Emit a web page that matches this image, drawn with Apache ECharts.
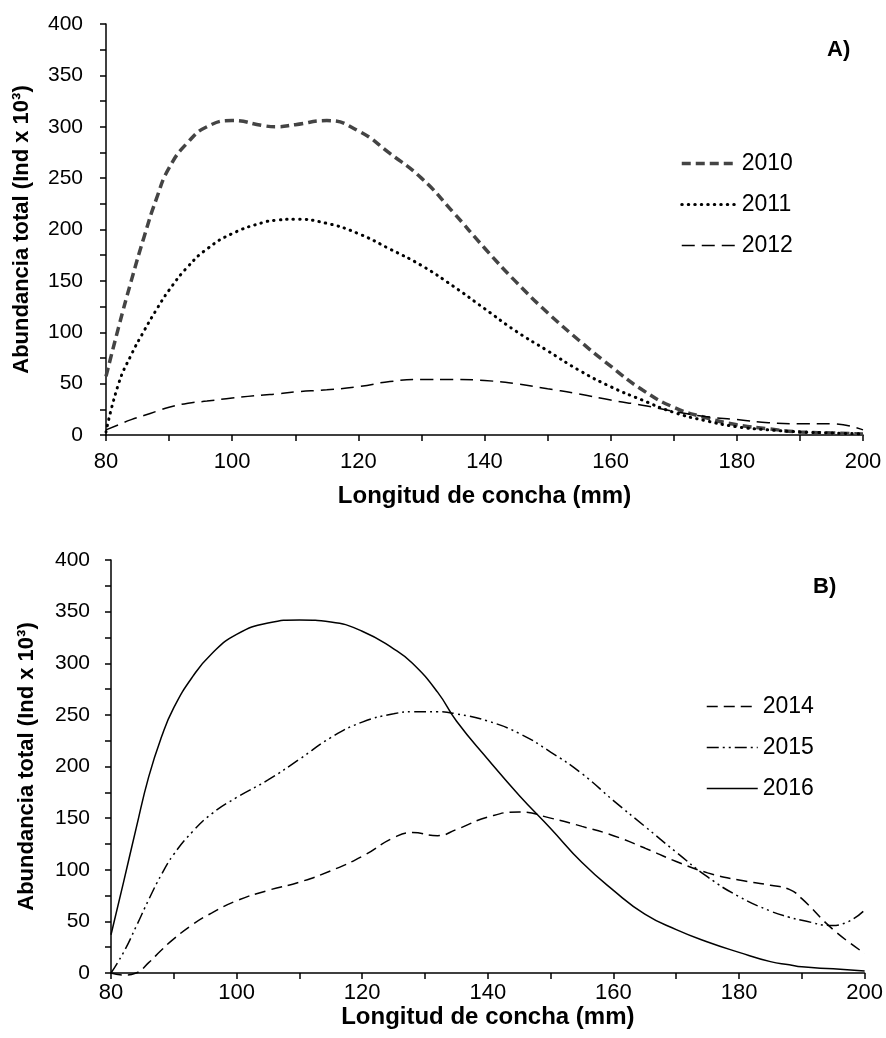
<!DOCTYPE html>
<html>
<head>
<meta charset="utf-8">
<script src="https://cdn.jsdelivr.net/npm/echarts@6/dist/echarts.min.js"></script>
<style>
  html, body { margin: 0; padding: 0; background: #fff; }
  #main { width: 886px; height: 1038px; }
</style>
</head>
<body>
<div id="main"></div>
<script>
// Longitud de concha (mm)
var lenA = [80, 82, 84, 86, 88, 90, 93, 96, 100, 105, 107, 110, 115, 120, 125, 130, 135, 140, 145, 150, 155, 160, 165, 170, 175, 180, 185, 190, 195, 200];
var a2010 = [57, 105, 150, 192, 230, 260, 285, 300, 306, 301, 300, 302, 306, 296, 274, 250, 217, 182, 149, 119, 92, 67, 44, 27, 17, 10, 6, 3, 2, 1];
var a2011 = [3, 50, 78, 101, 122, 141, 164, 181, 196, 207, 209, 210, 206, 196, 181, 165, 145, 123, 101, 82, 63, 47, 34, 22, 14, 8, 5, 3, 2, 1];
var a2012 = [5, 10, 15, 19, 23, 27, 31, 33, 36, 39, 40, 42, 44, 47, 52, 54, 54, 53, 50, 45, 40, 34, 29, 23, 18, 15, 12, 11, 11, 5];

var lenB = [80, 82, 84, 86, 88, 90, 93, 96, 100, 105, 110, 115, 120, 125, 128, 132, 135, 140, 145, 150, 155, 160, 165, 170, 175, 180, 185, 188, 190, 195, 200];
var b2014 = [0, -2, 0, 10, 22, 33, 47, 58, 70, 80, 88, 99, 113, 131, 136, 133, 139, 151, 156, 150, 142, 133, 121, 108, 97, 90, 85, 81, 72, 42, 19];
var b2015 = [0, 20, 45, 71, 95, 115, 137, 154, 170, 187, 207, 228, 243, 251, 253, 253, 251, 244, 232, 214, 193, 167, 142, 117, 93, 74, 60, 54, 51, 46, 61];
var b2016 = [37, 88, 140, 190, 228, 257, 287, 309, 328, 339, 342, 340, 331, 314, 300, 272, 244, 207, 172, 140, 107, 80, 57, 42, 30, 20, 11, 8, 6, 4, 2];

var yTitle = 'Abundancia total (Ind x 10³)';
var xTitle = 'Longitud de concha (mm)';
var font = 'Liberation Sans, Arial, sans-serif';

var styles = {
    '2010': {color: '#444', width: 3.5, type: [9, 5]},
    '2011': {color: '#000', width: 3, type: [0.5, 6], cap: 'round'},
    '2012': {color: '#000', width: 1.5, type: [13, 7]},
    '2014': {color: '#000', width: 1.5, type: [11, 6]},
    '2015': {color: '#000', width: 1.5, type: [12, 4, 2, 4, 2, 4]},
    '2016': {color: '#000', width: 1.5}
};

function pairs(xs, ys) {
    var out = [];
    for (var i = 0; i < xs.length; i++) {
        out.push([xs[i], ys[i]]);
    }
    return out;
}

function xAxisFor(grid, gap, margin) {
    return {
        type: 'value',
        gridIndex: grid,
        min: 80,
        max: 200,
        interval: 10,
        name: xTitle,
        nameLocation: 'middle',
        nameGap: gap,
        nameTextStyle: {fontSize: 24, fontWeight: 'bold', color: '#000', fontFamily: font},
        axisLine: {onZero: false, lineStyle: {color: '#000', width: 1.5}},
        axisTick: {length: 6, lineStyle: {color: '#000', width: 1.5}},
        axisLabel: {
            margin: margin,
            fontSize: 22,
            color: '#000',
            fontFamily: font,
            formatter: function (v) { return v % 20 === 0 ? String(v) : ''; }
        },
        splitLine: {show: false}
    };
}

function yAxisFor(grid, margin) {
    return {
        type: 'value',
        gridIndex: grid,
        min: 0,
        max: 400,
        interval: 25,
        name: yTitle,
        nameLocation: 'middle',
        nameGap: 73,
        nameTextStyle: {fontSize: 22, fontWeight: 'bold', color: '#000', fontFamily: font},
        axisLine: {show: true, lineStyle: {color: '#000', width: 1.5}},
        axisTick: {show: true, length: 6, lineStyle: {color: '#000', width: 1.5}},
        axisLabel: {
            margin: margin,
            fontSize: 21,
            color: '#000',
            fontFamily: font,
            formatter: function (v) { return v % 50 === 0 ? String(v) : ''; }
        },
        splitLine: {show: false}
    };
}

function lineSeries(name, grid, data) {
    return {
        name: name,
        type: 'line',
        xAxisIndex: grid,
        yAxisIndex: grid,
        data: data,
        smooth: 0.5,
        symbol: 'none',
        clip: false,
        itemStyle: {color: styles[name].color, opacity: 0},
        lineStyle: styles[name]
    };
}

function legendFor(names, left, top, w) {
    return {
        data: names.map(function (n) {
            return {name: n, lineStyle: styles[n], itemStyle: {opacity: 0}};
        }),
        orient: 'vertical',
        left: left,
        top: top,
        padding: 0,
        itemWidth: w,
        itemHeight: 14,
        itemGap: 18,
        itemStyle: {opacity: 0},
        textStyle: {fontSize: 23, color: '#000', fontFamily: font}
    };
}

var chart = echarts.init(document.getElementById('main'), null, {renderer: 'canvas'});

var option = {
    backgroundColor: '#fff',
    animation: false,
    title: [
        {text: 'A)', left: 822, top: 34, textStyle: {fontSize: 22, fontWeight: 'bold', color: '#000', fontFamily: font}},
        {text: 'B)', left: 808, top: 571, textStyle: {fontSize: 22, fontWeight: 'bold', color: '#000', fontFamily: font}}
    ],
    legend: [
        legendFor(['2010', '2011', '2012'], 680, 152, 55),
        legendFor(['2014', '2015', '2016'], 706, 695, 51)
    ],
    grid: [
        {left: 106, top: 24, width: 757, height: 411},
        {left: 111, top: 560, width: 754, height: 413}
    ],
    xAxis: [xAxisFor(0, 49, 16), xAxisFor(1, 30, 9)],
    yAxis: [yAxisFor(0, 23), yAxisFor(1, 21)],
    series: [
        lineSeries('2010', 0, pairs(lenA, a2010)),
        lineSeries('2011', 0, pairs(lenA, a2011)),
        lineSeries('2012', 0, pairs(lenA, a2012)),
        lineSeries('2014', 1, pairs(lenB, b2014)),
        lineSeries('2015', 1, pairs(lenB, b2015)),
        lineSeries('2016', 1, pairs(lenB, b2016))
    ]
};

chart.setOption(option);
</script>
</body>
</html>
